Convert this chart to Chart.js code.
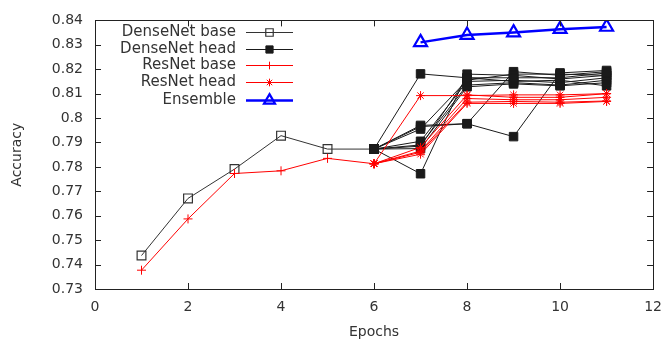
<!DOCTYPE html>
<html>
<head>
<meta charset="utf-8">
<script src="https://cdn.jsdelivr.net/npm/chart.js@4/dist/chart.umd.min.js"></script>
<style>
  body { margin: 0; background: #ffffff; }
  canvas { display: block; }
</style>
</head>
<body>
<canvas id="accuracyChart" width="672" height="343"></canvas>
<script>
// epochs
const baseEpochs = [1, 2, 3, 4, 5, 6];
const headEpochs = [6, 7, 8, 9, 10, 11];
const ensembleEpochs = [7, 8, 9, 10, 11];

// accuracy values
const densenetBase = [0.7437, 0.7671, 0.7791, 0.7928, 0.7873, 0.7873];
const resnetBase = [0.7377, 0.7587, 0.7773, 0.7784, 0.7835, 0.7813];
const ensemble = [0.831, 0.834, 0.835, 0.8364, 0.8373];

const densenetHeadRuns = [
  [0.7873, 0.8181, 0.8165, 0.8165, 0.8165, 0.8185],
  [0.7873, 0.7772, 0.818, 0.8175, 0.816, 0.8175],
  [0.7873, 0.797, 0.7977, 0.7924, 0.8185, 0.8195],
  [0.7873, 0.7965, 0.7977, 0.819, 0.8175, 0.819],
  [0.7873, 0.7955, 0.8155, 0.818, 0.818, 0.8175],
  [0.7873, 0.7905, 0.815, 0.8155, 0.8145, 0.8165],
  [0.7873, 0.789, 0.8135, 0.8145, 0.8135, 0.8155],
  [0.7873, 0.7875, 0.8128, 0.814, 0.8132, 0.8145],
  [0.7873, 0.7885, 0.8165, 0.815, 0.8155, 0.8132]
];

const resnetHeadRuns = [
  [0.7813, 0.8092, 0.8092, 0.8095, 0.8095, 0.81],
  [0.7813, 0.788, 0.8095, 0.8085, 0.8085, 0.81],
  [0.7813, 0.7865, 0.808, 0.8075, 0.8075, 0.8085],
  [0.7813, 0.786, 0.8065, 0.8068, 0.8065, 0.807],
  [0.7813, 0.7852, 0.806, 0.806, 0.806, 0.8068]
];

const xTicks = [0, 2, 4, 6, 8, 10, 12];

const colors = {
  black: '#1a1a1a',
  red: '#ff0000',
  blue: '#0000ff',
  text: '#333333',
  axis: '#222222'
};

const styles = {
  densenetBase: { label: 'DenseNet base', color: '#333333', lineWidth: 1, pointStyle: 'rect', radius: 6.2, fill: 'rgba(0,0,0,0)', pointBorder: 1.2 },
  densenetHead: { label: 'DenseNet head', color: colors.black, lineWidth: 1, pointStyle: 'rect', radius: 6, fill: colors.black, pointBorder: 1 },
  resnetBase: { label: 'ResNet base', color: colors.red, lineWidth: 1, pointStyle: 'cross', radius: 4.5, fill: colors.red, pointBorder: 1 },
  resnetHead: { label: 'ResNet head', color: colors.red, lineWidth: 1, pointStyle: 'star', radius: 4.5, fill: colors.red, pointBorder: 1 },
  ensemble: { label: 'Ensemble', color: colors.blue, lineWidth: 2.5, pointStyle: 'triangle', radius: 7.5, fill: 'rgba(0,0,0,0)', pointBorder: 2.2 }
};

function toPoints(xs, ys) {
  return xs.map((x, i) => ({ x, y: ys[i] }));
}

function makeDataset(style, xs, ys, order) {
  return {
    label: style.label,
    data: toPoints(xs, ys),
    borderColor: style.color,
    borderWidth: style.lineWidth,
    pointStyle: style.pointStyle,
    pointRadius: style.radius,
    pointBackgroundColor: style.fill,
    pointBorderColor: style.color,
    pointBorderWidth: style.pointBorder,
    tension: 0,
    fill: false,
    order
  };
}

const datasets = [];
densenetHeadRuns.forEach((run) => datasets.push(makeDataset(styles.densenetHead, headEpochs, run, 4)));
resnetHeadRuns.forEach((run) => datasets.push(makeDataset(styles.resnetHead, headEpochs, run, 3)));
datasets.push(makeDataset(styles.densenetBase, baseEpochs, densenetBase, 5));
datasets.push(makeDataset(styles.resnetBase, baseEpochs, resnetBase, 2));
datasets.push(makeDataset(styles.ensemble, ensembleEpochs, ensemble, 1));

// gnuplot-like frame with inward ticks on all four sides
const framePlugin = {
  id: 'frame',
  afterDatasetsDraw(chart) {
    const { ctx, chartArea: a, scales } = chart;
    const tick = 6;
    ctx.save();
    ctx.strokeStyle = colors.axis;
    ctx.lineWidth = 1;
    ctx.beginPath();
    scales.x.ticks.forEach((t) => {
      const px = Math.round(scales.x.getPixelForValue(t.value)) + 0.5;
      ctx.moveTo(px, a.bottom); ctx.lineTo(px, a.bottom - tick);
      ctx.moveTo(px, a.top); ctx.lineTo(px, a.top + tick);
    });
    scales.y.ticks.forEach((t) => {
      const py = Math.round(scales.y.getPixelForValue(t.value)) + 0.5;
      ctx.moveTo(a.left, py); ctx.lineTo(a.left + tick, py);
      ctx.moveTo(a.right, py); ctx.lineTo(a.right - tick, py);
    });
    ctx.stroke();
    ctx.strokeRect(Math.round(a.left) + 0.5, Math.round(a.top) + 0.5, Math.round(a.right - a.left), Math.round(a.bottom - a.top));
    ctx.restore();
  }
};

// key in the upper left: text right aligned, sample to the right
const keyPlugin = {
  id: 'key',
  afterDraw(chart) {
    const { ctx } = chart;
    const entries = [styles.densenetBase, styles.densenetHead, styles.resnetBase, styles.resnetHead, styles.ensemble];
    const textRight = 236;
    const lineStart = 246;
    const lineEnd = 293;
    const rowY = [32, 49, 65, 82, 100];
    entries.forEach((s, i) => {
      const y = rowY[i] + 0.5;
      ctx.save();
      ctx.font = '15px "DejaVu Sans"';
      ctx.textAlign = 'right';
      ctx.textBaseline = 'middle';
      ctx.fillStyle = colors.text;
      ctx.fillText(s.label, textRight, y);

      ctx.strokeStyle = s.color;
      ctx.lineWidth = s.lineWidth;
      ctx.beginPath();
      ctx.moveTo(lineStart, y);
      ctx.lineTo(lineEnd, y);
      ctx.stroke();

      ctx.strokeStyle = s.color;
      ctx.fillStyle = s.fill;
      ctx.lineWidth = s.pointBorder;
      Chart.helpers.drawPoint(ctx, { pointStyle: s.pointStyle, radius: s.radius * 0.85, rotation: 0, borderWidth: s.pointBorder }, (lineStart + lineEnd) / 2, y);
      ctx.restore();
    });
  }
};

new Chart(document.getElementById('accuracyChart'), {
  type: 'line',
  data: { datasets },
  options: {
    responsive: false,
    animation: false,
    layout: { padding: { top: 14, right: 11, left: 0, bottom: 0 } },
    plugins: {
      legend: { display: false },
      tooltip: { enabled: false }
    },
    scales: {
      x: {
        type: 'linear',
        min: 0,
        max: 12,
        afterBuildTicks: (scale) => { scale.ticks = xTicks.map((v) => ({ value: v })); },
        afterFit: (scale) => { scale.height = 54; },
        grid: { display: false, drawTicks: false },
        border: { display: false },
        ticks: { color: colors.text, font: { family: 'DejaVu Sans', size: 14 }, padding: 10, maxRotation: 0 },
        title: { display: true, text: 'Epochs', color: colors.text, font: { family: 'DejaVu Sans', size: 14 }, padding: { top: 0, bottom: 2 } }
      },
      y: {
        min: 0.73,
        max: 0.84,
        afterBuildTicks: (scale) => {
          const ticks = [];
          for (let i = 73; i <= 84; i++) ticks.push({ value: i / 100 });
          scale.ticks = ticks;
        },
        afterFit: (scale) => { scale.width = 95; },
        grid: { display: false, drawTicks: false },
        border: { display: false },
        ticks: {
          color: colors.text,
          font: { family: 'DejaVu Sans', size: 14 },
          padding: 12,
          callback: (v) => String(Number(v.toFixed(2)))
        },
        title: { display: true, text: 'Accuracy', color: colors.text, font: { family: 'DejaVu Sans', size: 14 }, padding: { top: 9, bottom: 0 } }
      }
    }
  },
  plugins: [framePlugin, keyPlugin]
});
</script>
</body>
</html>
